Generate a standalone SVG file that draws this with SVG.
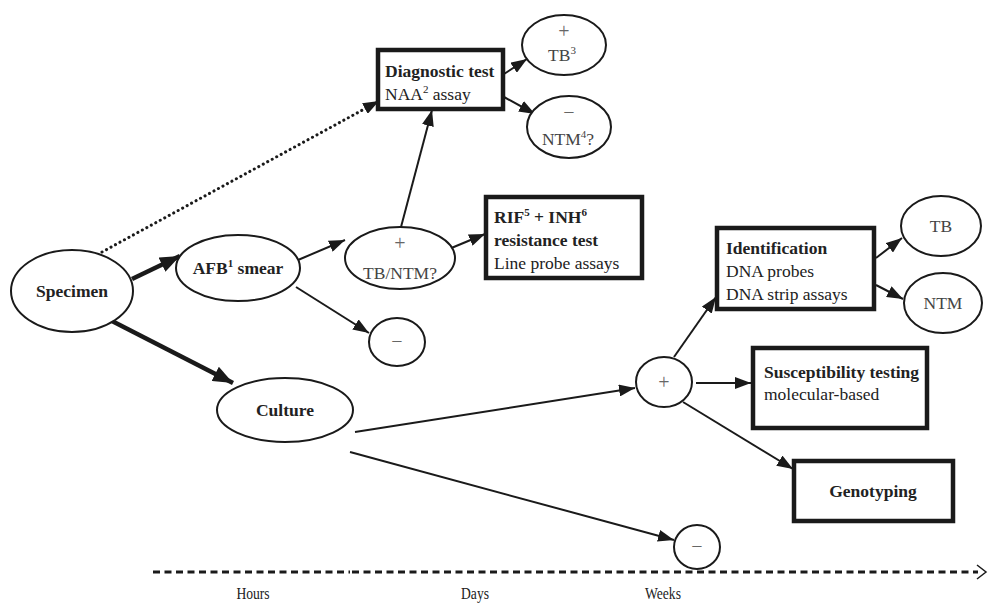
<svg xmlns="http://www.w3.org/2000/svg" width="995" height="604" viewBox="0 0 995 604">
<defs>
<style>
.n{fill:#fff;stroke:#1a1a1a;stroke-width:2}
.b{fill:#fff;stroke:#1a1a1a;stroke-width:4.5}
.t{font-family:"Liberation Serif","Times New Roman",serif;font-size:17.5px;fill:#222}
.bd{font-weight:bold}
.sg{fill:#444}
.s{font-family:"Liberation Serif","Times New Roman",serif;font-size:20px;fill:#666}
.sup{font-size:11px}
.tl{font-family:"Liberation Serif","Times New Roman",serif;font-size:16px;fill:#222}
.c{stroke:#1a1a1a;stroke-width:2;fill:none;marker-end:url(#ah)}
.ck{stroke:#1a1a1a;stroke-width:4.5;fill:none;marker-end:url(#ahb)}
</style>
<marker id="ah" viewBox="0 0 16 12" refX="16" refY="6" markerWidth="16" markerHeight="12" markerUnits="userSpaceOnUse" orient="auto"><path d="M0,0 L16,6 L0,12 z" fill="#1a1a1a"/></marker>
<marker id="ahb" viewBox="0 0 20 16" refX="20" refY="8" markerWidth="20" markerHeight="16" markerUnits="userSpaceOnUse" orient="auto"><path d="M0,0 L20,8 L0,16 z" fill="#1a1a1a"/></marker>
</defs>
<rect width="995" height="604" fill="#fff"/>
<g id="connectors">
<line class="ck" x1="132" y1="279" x2="180" y2="256"/>
<line class="ck" x1="110" y1="320" x2="233" y2="383"/>
<line x1="102" y1="252" x2="368" y2="107" stroke="#1a1a1a" stroke-width="3" stroke-dasharray="0.1 5" stroke-linecap="round"/>
<line x1="366" y1="108" x2="379" y2="101" stroke="#1a1a1a" stroke-width="2" marker-end="url(#ah)"/>
<line class="c" x1="298" y1="260" x2="345" y2="240"/>
<line class="c" x1="296" y1="287" x2="369" y2="333"/>
<line class="c" x1="401" y1="227" x2="432" y2="110"/>
<line class="c" x1="449" y1="249" x2="485" y2="234"/>
<line class="c" x1="504" y1="74" x2="527" y2="59"/>
<line class="c" x1="504" y1="97" x2="535" y2="114"/>
<line class="c" x1="355" y1="432" x2="635" y2="388"/>
<line class="c" x1="350" y1="452" x2="674" y2="540"/>
<line class="c" x1="674" y1="357" x2="716" y2="297"/>
<line class="c" x1="696" y1="383" x2="751" y2="383"/>
<line class="c" x1="683" y1="402" x2="793" y2="469"/>
<line class="c" x1="876" y1="258" x2="902" y2="238"/>
<line class="c" x1="876" y1="285" x2="903" y2="299"/>
</g>
<g id="timeline">
<line x1="153" y1="572" x2="350" y2="572" stroke="#1a1a1a" stroke-width="3" stroke-dasharray="7 4.5"/>
<line x1="352" y1="572" x2="978" y2="572" stroke="#1a1a1a" stroke-width="3" stroke-dasharray="7 4.5"/>
<path d="M977,565 L986,572 L977,579" fill="none" stroke="#1a1a1a" stroke-width="1.5"/>
<text class="tl" text-anchor="middle" transform="translate(253 599) scale(0.85 1)">Hours</text>
<text class="tl" text-anchor="middle" transform="translate(475 599) scale(0.85 1)">Days</text>
<text class="tl" text-anchor="middle" transform="translate(663 599) scale(0.85 1)">Weeks</text>
</g>
<g id="specimen">
<ellipse class="n" cx="72" cy="291" rx="61" ry="41"/>
<text class="t bd" x="72" y="297" text-anchor="middle">Specimen</text>
</g>
<g id="afb">
<ellipse class="n" cx="238" cy="268" rx="62" ry="33"/>
<text class="t bd" x="238" y="274" text-anchor="middle">AFB<tspan class="sup" dy="-7">1</tspan><tspan dy="7"> smear</tspan></text>
</g>
<g id="culture">
<ellipse class="n" cx="285" cy="410" rx="68" ry="32"/>
<text class="t bd" x="285" y="416" text-anchor="middle">Culture</text>
</g>
<g id="afb-pos">
<ellipse class="n" cx="400" cy="258" rx="55" ry="31"/>
<text class="s" x="400" y="250" text-anchor="middle">+</text>
<text class="t sg" x="400" y="279" text-anchor="middle">TB/NTM?</text>
</g>
<g id="afb-neg">
<ellipse class="n" cx="397" cy="342" rx="28" ry="24"/>
<text class="s" x="397" y="348" text-anchor="middle">−</text>
</g>
<g id="diagnostic">
<rect class="b" x="378" y="50" width="125" height="59"/>
<text class="t bd" x="385" y="77">Diagnostic test</text>
<text class="t" x="385" y="100">NAA<tspan class="sup" dy="-7">2</tspan><tspan dy="7"> assay</tspan></text>
</g>
<g id="tb3">
<ellipse class="n" cx="564" cy="45" rx="42" ry="30"/>
<text class="s" x="564" y="38" text-anchor="middle">+</text>
<text class="t sg" x="562" y="61" text-anchor="middle">TB<tspan class="sup" dy="-7">3</tspan></text>
</g>
<g id="ntm4">
<ellipse class="n" cx="569" cy="127" rx="42" ry="31"/>
<text class="s" x="569" y="119" text-anchor="middle">−</text>
<text class="t sg" x="568" y="145" text-anchor="middle">NTM<tspan class="sup" dy="-7">4</tspan><tspan dy="7">?</tspan></text>
</g>
<g id="rif">
<rect class="b" x="486" y="197" width="156" height="81"/>
<text class="t bd" x="494" y="223">RIF<tspan class="sup" dy="-7">5</tspan><tspan dy="7"> + INH</tspan><tspan class="sup" dy="-7">6</tspan></text>
<text class="t bd" x="494" y="246">resistance test</text>
<text class="t" x="494" y="269">Line probe assays</text>
</g>
<g id="culture-pos">
<ellipse class="n" cx="664" cy="382" rx="28" ry="25"/>
<text class="s" x="664" y="389" text-anchor="middle">+</text>
</g>
<g id="culture-neg">
<ellipse class="n" cx="697" cy="547" rx="23" ry="22"/>
<text class="s" x="697" y="553" text-anchor="middle">−</text>
</g>
<g id="identification">
<rect class="b" x="717" y="228" width="157" height="81"/>
<text class="t bd" x="726" y="254">Identification</text>
<text class="t" x="726" y="277">DNA probes</text>
<text class="t" x="726" y="300">DNA strip assays</text>
</g>
<g id="tb">
<ellipse class="n" cx="941" cy="226" rx="40" ry="30"/>
<text class="t sg" x="941" y="232" text-anchor="middle">TB</text>
</g>
<g id="ntm">
<ellipse class="n" cx="943" cy="303" rx="39" ry="30"/>
<text class="t sg" x="943" y="309" text-anchor="middle">NTM</text>
</g>
<g id="susceptibility">
<rect class="b" x="753" y="348" width="174" height="80"/>
<text class="t bd" x="764" y="378">Susceptibility testing</text>
<text class="t" x="764" y="400">molecular-based</text>
</g>
<g id="genotyping">
<rect class="b" x="794" y="461" width="159" height="60"/>
<text class="t bd" x="873" y="497" text-anchor="middle">Genotyping</text>
</g>
</svg>
